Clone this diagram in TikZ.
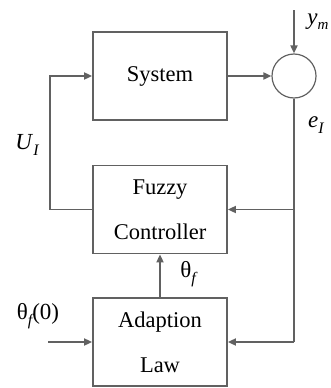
\documentclass[tikz,border=0pt]{standalone}
\usepackage{fontspec}
\setmainfont{Liberation Serif}
\usetikzlibrary{arrows.meta}
\begin{document}
\begin{tikzpicture}[x=1pt,y=-1pt,
  wire/.style={draw=black!62, line width=1.8pt},
  arr/.style={wire, -{Triangle[length=8pt,width=7pt]}},
  blk/.style={draw=black!62, line width=1.8pt, minimum width=134pt, minimum height=88pt,
    align=center, font=\fontsize{22.5}{45}\selectfont, inner sep=0pt},
  sumj/.style={circle, draw=black!62, line width=1.2pt, minimum size=44pt, inner sep=0pt},
  lbl/.style={font=\fontsize{23}{25}\selectfont, inner sep=0pt}]
\useasboundingbox (0,0) rectangle (331,388);

% blocks
\node[blk] (sys) at (160,76) {System};
\node[blk] (fc) at (160,209.5) {Fuzzy\\Controller};
\node[blk] (al) at (160,342) {Adaption\\Law};
\node[sumj] (sum) at (294,76) {};

% helper points
\coordinate (ref) at (294,10);
\coordinate (tap) at (294,209.5);
\coordinate (bot) at (294,342);
\coordinate (ul) at (50,209.5);
\coordinate (init) at (48,342);

% connections
\draw[arr] (ref) -- (sum.north);
\draw[arr] (sys.east) -- (sum.west);
\draw[wire] (sum.south) -- (bot);
\draw[arr] (bot) -- (al.east);
\draw[arr] (tap) -- (fc.east);
\draw[arr] (fc.west) -- (ul) |- (sys.west);
\draw[arr] (al.north) -- (fc.south);
\draw[arr] (init) -- (al.west);

% labels
\node[lbl] (ym) at (318,22) {\textit{y}\raisebox{-0.45ex}{\fontsize{15}{16}\selectfont\itshape m}};
\node[lbl] (ui) at (27,145) {\textit{U}\raisebox{-0.55ex}{\fontsize{16}{16}\selectfont\itshape I}};
\node[lbl] (ei) at (316,125) {\textit{e}\raisebox{-0.55ex}{\fontsize{16}{16}\selectfont\itshape I}};
\node[lbl] (th) at (188,274) {θ\raisebox{-0.6ex}{\fontsize{16}{16}\selectfont\itshape f}};
\node[lbl] (th0) at (38,316) {θ\raisebox{-0.6ex}{\fontsize{16}{16}\selectfont\itshape f}(0)};
\end{tikzpicture}
\end{document}
